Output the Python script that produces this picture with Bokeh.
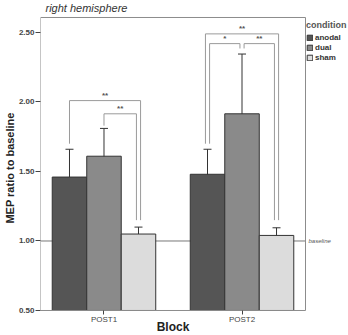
from bokeh.plotting import figure
from bokeh.models import (ColumnDataSource, Range1d, FixedTicker, Whisker, TeeHead,
                          Label, Legend, LegendItem, NumeralTickFormatter)
from bokeh.core.properties import value
from bokeh.embed import file_html
from bokeh.resources import INLINE

# ---- data ----
blocks = ["POST1", "POST2"]
conditions = ["anodal", "dual", "sham"]
anodal = [1.46, 1.48]
anodal_lo = [1.27, 1.29]
anodal_hi = [1.66, 1.66]
dual = [1.61, 1.915]
dual_lo = [1.40, 1.49]
dual_hi = [1.81, 2.345]
sham = [1.05, 1.04]
sham_lo = [1.00, 0.99]
sham_hi = [1.10, 1.095]
baseline = 1.0
y_ticks = [0.5, 1.0, 1.5, 2.0, 2.5]

# significance brackets: block, from, to, top, left-leg end, right-leg end, label
br_block = [0, 0, 1, 1, 1]
br_from = ["anodal", "dual", "anodal", "anodal", "dual"]
br_to = ["sham", "sham", "sham", "dual", "sham"]
br_top = [2.01, 1.915, 2.49, 2.42, 2.42]
br_left_end = [1.70, 1.83, 1.70, 1.70, 2.385]
br_right_end = [1.15, 1.15, 1.15, 2.385, 1.15]
br_label = ["**", "**", "**", "*", "**"]

# ---- style / layout ----
colors = ["#555555", "#8a8a8a", "#dcdcdc"]
FONT = "Liberation Sans"
group_centers = [0.5, 1.5]
offsets = [-0.25, 0.0, 0.25]
bar_w = 0.25
leg_shift_left = [0.0, 0.0, -0.015, 0.015, 0.015]
leg_shift_right = [0.015, -0.015, 0.015, -0.015, -0.015]
# visible plot box (the frame itself is larger, so that the side texts are not clipped)
box_l, box_r, box_b, box_t = 0.04, 1.96, 0.5, 2.608
x_end, y_start, y_end = 2.2715, 0.3201, 2.7302

p = figure(width=348, height=335, output_backend="svg", toolbar_location=None,
           x_range=Range1d(box_l, x_end), y_range=Range1d(y_start, y_end),
           min_border_left=40, min_border_right=0, min_border_top=0,
           min_border_bottom=0)
p.background_fill_color = "white"
p.border_fill_color = "white"
p.outline_line_color = None
p.xgrid.visible = False
p.ygrid.visible = False

# baseline, drawn behind the bars inside the plot box
p.segment(x0=[box_l], x1=[box_r], y0=[baseline], y1=[baseline],
          line_color="#777777", line_width=1, level="underlay")

series = [(anodal, anodal_lo, anodal_hi), (dual, dual_lo, dual_hi), (sham, sham_lo, sham_hi)]
renderers = []
for ci, (vals, lo, hi) in enumerate(series):
    xs = [g + offsets[ci] for g in group_centers]
    src = ColumnDataSource(dict(x=xs, top=vals, lo=lo, hi=hi))
    r = p.vbar(x="x", top="top", bottom=box_b, width=bar_w, source=src,
               fill_color=colors[ci], line_color="#333333", line_width=1)
    renderers.append(r)
    p.add_layout(Whisker(base="x", lower="lo", upper="hi", source=src,
                         line_color="#333333", line_width=1,
                         upper_head=TeeHead(size=8, line_color="#333333", line_width=1),
                         lower_head=TeeHead(size=8, line_color="#333333", line_width=1)))

# plot box
p.quad(left=box_l, right=box_r, bottom=box_b, top=box_t, fill_color=None,
       line_color="#8c8c8c", line_width=1)

# brackets
bxs, bys, lx, ly = [], [], [], []
for i in range(len(br_block)):
    g = group_centers[br_block[i]]
    x0 = g + offsets[conditions.index(br_from[i])] + leg_shift_left[i]
    x1 = g + offsets[conditions.index(br_to[i])] + leg_shift_right[i]
    bxs.append([x0, x0, x1, x1])
    bys.append([br_left_end[i], br_top[i], br_top[i], br_right_end[i]])
    lx.append((x0 + x1) / 2)
    ly.append(br_top[i])
p.multi_line(xs=bxs, ys=bys, line_color="#9a9a9a", line_width=1)
p.text(x=lx, y=ly, text=br_label, text_font=value(FONT), text_font_size="8px",
       text_font_style="bold", text_color="#555555", text_align="center",
       text_baseline="bottom", y_offset=-1)

# axes
p.yaxis.ticker = FixedTicker(ticks=y_ticks)
p.yaxis.formatter = NumeralTickFormatter(format="0.00")
p.yaxis.major_label_text_font = FONT
p.yaxis.major_label_text_font_size = "8px"
p.yaxis.major_label_text_font_style = "bold"
p.yaxis.major_label_text_color = "#444444"
p.yaxis.major_tick_out = 5
p.yaxis.major_tick_in = 0
p.yaxis.minor_tick_line_color = None
p.yaxis.major_label_standoff = 1
p.yaxis.axis_line_color = None
p.yaxis.major_tick_line_color = "#444444"
p.yaxis.axis_label = "MEP ratio to baseline"
p.yaxis.axis_label_text_font = FONT
p.yaxis.axis_label_text_font_size = "11px"
p.yaxis.axis_label_text_font_style = "bold"
p.yaxis.axis_label_text_color = "#222222"
p.yaxis.axis_label_standoff = 0

p.xaxis.fixed_location = box_b
p.xaxis.ticker = FixedTicker(ticks=group_centers)
p.xaxis.major_label_overrides = {group_centers[i]: blocks[i] for i in range(len(blocks))}
p.xaxis.major_label_text_font = FONT
p.xaxis.major_label_text_font_size = "8px"
p.xaxis.major_label_text_color = "#444444"
p.xaxis.major_tick_out = 4
p.xaxis.major_tick_in = 0
p.xaxis.minor_tick_line_color = None
p.xaxis.major_label_standoff = 1
p.xaxis.axis_line_color = None
p.xaxis.major_tick_line_color = "#444444"

# x axis title
p.add_layout(Label(x=1.0, y=box_b, y_offset=-10, text="Block", text_font=FONT,
                   text_font_size="12px", text_font_style="bold", text_color="#222222",
                   text_align="center", text_baseline="top"))

# title
p.add_layout(Label(x=box_l, y=box_t, x_offset=5, y_offset=3, text="right hemisphere",
                   text_font=FONT, text_font_size="11px", text_font_style="italic",
                   text_color="#333333", text_align="left", text_baseline="bottom"))

# baseline label
p.add_layout(Label(x=box_r, y=baseline, x_offset=3, text="baseline", text_font=FONT,
                   text_font_size="6px", text_font_style="italic", text_color="#555555",
                   text_align="left", text_baseline="middle"))

legend = Legend(items=[LegendItem(label=conditions[i], renderers=[renderers[i]])
                       for i in range(3)],
                location=(266, 273), title="condition",
                title_text_font=FONT, title_text_font_size="9px",
                title_text_font_style="bold", title_text_color="#555555",
                title_standoff=3,
                label_text_font=FONT, label_text_font_size="8px",
                label_text_font_style="bold", label_text_color="#333333",
                label_height=8, glyph_height=7, glyph_width=7, label_standoff=2,
                spacing=1, padding=0, margin=0, border_line_alpha=0,
                background_fill_alpha=0)
p.add_layout(legend, "center")

open("out.html", "w").write(file_html(p, INLINE))
